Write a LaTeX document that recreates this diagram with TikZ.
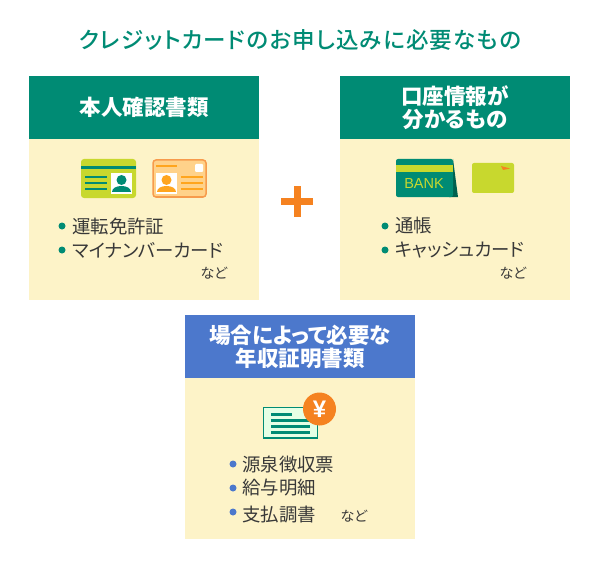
\documentclass[tikz,border=0pt]{standalone}
\usepackage{xcolor}
\usepackage{fontspec}
\setmainfont[RawFeature=+palt]{Noto Sans CJK JP}
\newfontfamily\mediumfont[RawFeature=+palt, UprightFont=* Medium, LetterSpace=5.5]{Noto Sans CJK JP}
\newfontfamily\latinfont{Liberation Sans}
\usetikzlibrary{positioning}
\definecolor{tealmain}{HTML}{008B74}
\definecolor{tealdark}{HTML}{00604F}
\definecolor{creamback}{HTML}{FDF3C8}
\definecolor{bluehead}{HTML}{4C78CC}
\definecolor{limecard}{HTML}{C8D82E}
\definecolor{orangemain}{HTML}{F58220}
\definecolor{orangeline}{HTML}{FFA51E}
\definecolor{orangecard}{HTML}{FFD28A}

\tikzset{
    headbox/.style={fill=tealmain, text=white, minimum width=230pt, minimum height=63pt, inner sep=0pt, align=center, font=\fontsize{21.5}{23}\selectfont\bfseries},
    bodybox/.style={fill=creamback, minimum width=230pt, minimum height=161pt, inner sep=0pt},
    itemtext/.style={anchor=west, inner sep=0pt, text=black!78, font=\fontsize{18.4}{20}\selectfont},
    etctext/.style={inner sep=0pt, text=black!78, font=\fontsize{14}{16}\selectfont},
    greendot/.style={circle, fill=tealmain, minimum size=7pt, inner sep=0pt},
    bluedot/.style={circle, fill=bluehead, minimum size=7pt, inner sep=0pt},
}

\begin{document}
\begin{tikzpicture}[x=1pt, y=-1pt]
    \useasboundingbox (0,0) rectangle (600,567);
    
    % Title
    \node[inner sep=0pt, text=tealmain, font=\mediumfont\fontsize{22.5}{24}\selectfont] (title) at (300,40) {クレジットカードのお申し込みに必要なもの};
    
    % Panels
    \node[bodybox] (idbody) at (144,219.5) {};
    \node[headbox] (idhead) at (144,107.5) {本人確認書類};
    \node[bodybox] (bankbody) at (455,219.5) {};
    \node[headbox] (bankhead) at (455,107.5) {口座情報が\\分かるもの};
    \node[bodybox] (incomebody) at (300,458.5) {};
    \node[headbox, fill=bluehead] (incomehead) at (300,346.5) {場合によって必要な\\年収証明書類};
    
    % Plus sign
    \fill[orangemain] (281,198) rectangle (313,205);
    \fill[orangemain] (293.5,186) rectangle (300.5,217);
    
    % Green licence card
    \fill[limecard, rounded corners=3pt] (81,159) rectangle (136,198);
    \fill[tealmain] (81,166) rectangle (136,169);
    \foreach \y in {177,183,189}
        \fill[tealmain] (85,\y-1) rectangle (107,\y+1);
    \fill[white] (111,173) rectangle (132,194);
    \fill[tealmain] (121.5,180) circle (5);
    \fill[tealmain] (112,192) .. controls (112,184) and (131,184) .. (131,192) -- cycle;
    
    % Orange number card
    \draw[orangemain!80, fill=orangecard, line width=1.5pt, rounded corners=3pt] (153,160) rectangle (206,197);
    \fill[orangeline] (156,165) rectangle (177,167.5);
    \fill[white, rounded corners=1pt] (195,164) rectangle (203,172);
    \fill[white] (156,173) rectangle (177,194);
    \fill[orangeline] (166.5,180) circle (5);
    \fill[orangeline] (157,192) .. controls (157,184) and (176,184) .. (176,192) -- cycle;
    \foreach \y in {177,183,189}
        \fill[orangeline] (181,\y-1) rectangle (203,\y+1);
    
    % Bank book
    \fill[tealdark] (453,159) -- (458,197) -- (449,197) -- cycle;
    \fill[tealmain, rounded corners=2pt] (396,159) -- (453,159) -- (453,197) -- (396,197) -- cycle;
    \fill[limecard] (396,165) rectangle (453,172);
    \node[inner sep=0pt, text=limecard, font=\latinfont\fontsize{14.5}{16}\selectfont] (banktext) at (424,184) {BANK};
    
    % Cash card
    \fill[limecard, rounded corners=2pt] (472,163) rectangle (514,193);
    \fill[orangemain] (501,166) -- (510,168.5) -- (503,170) -- cycle;
    
    % Income document
    \draw[tealmain, fill=white!90!green, line width=1.5pt] (263.5,407.5) rectangle (317.5,438);
    \fill[tealmain] (271,412.5) rectangle (292,415.5);
    \foreach \y in {420,426,432}
        \fill[tealmain] (271,\y-1.5) rectangle (310,\y+1.5);
    \node[circle, fill=orangemain, minimum size=33pt, inner sep=0pt, text=white, font=\latinfont\fontsize{24}{24}\selectfont\bfseries] (yen) at (319.5,409) {¥};
    
    % Items of the left panel
    \node[greendot] (dotA) at (62,226) {};
    \node[itemtext] (itemA) at (72,226) {運転免許証};
    \node[greendot] (dotB) at (62,250) {};
    \node[itemtext] (itemB) at (72,250) {マイナンバーカード};
    \node[etctext] (etcA) at (214,273) {など};
    
    % Items of the right panel
    \node[greendot] (dotC) at (385,226) {};
    \node[itemtext] (itemC) at (395,226) {通帳};
    \node[greendot] (dotD) at (385,250) {};
    \node[itemtext] (itemD) at (395,250) {キャッシュカード};
    \node[etctext] (etcB) at (513,273) {など};
    
    % Items of the bottom panel
    \node[bluedot] (dotE) at (233,464) {};
    \node[itemtext] (itemE) at (242,464) {源泉徴収票};
    \node[bluedot] (dotF) at (233,488) {};
    \node[itemtext] (itemF) at (242,488) {給与明細};
    \node[bluedot] (dotG) at (233,512) {};
    \node[itemtext] (itemG) at (242,515) {支払調書};
    \node[etctext] (etcC) at (354,516) {など};
\end{tikzpicture}
\end{document}
